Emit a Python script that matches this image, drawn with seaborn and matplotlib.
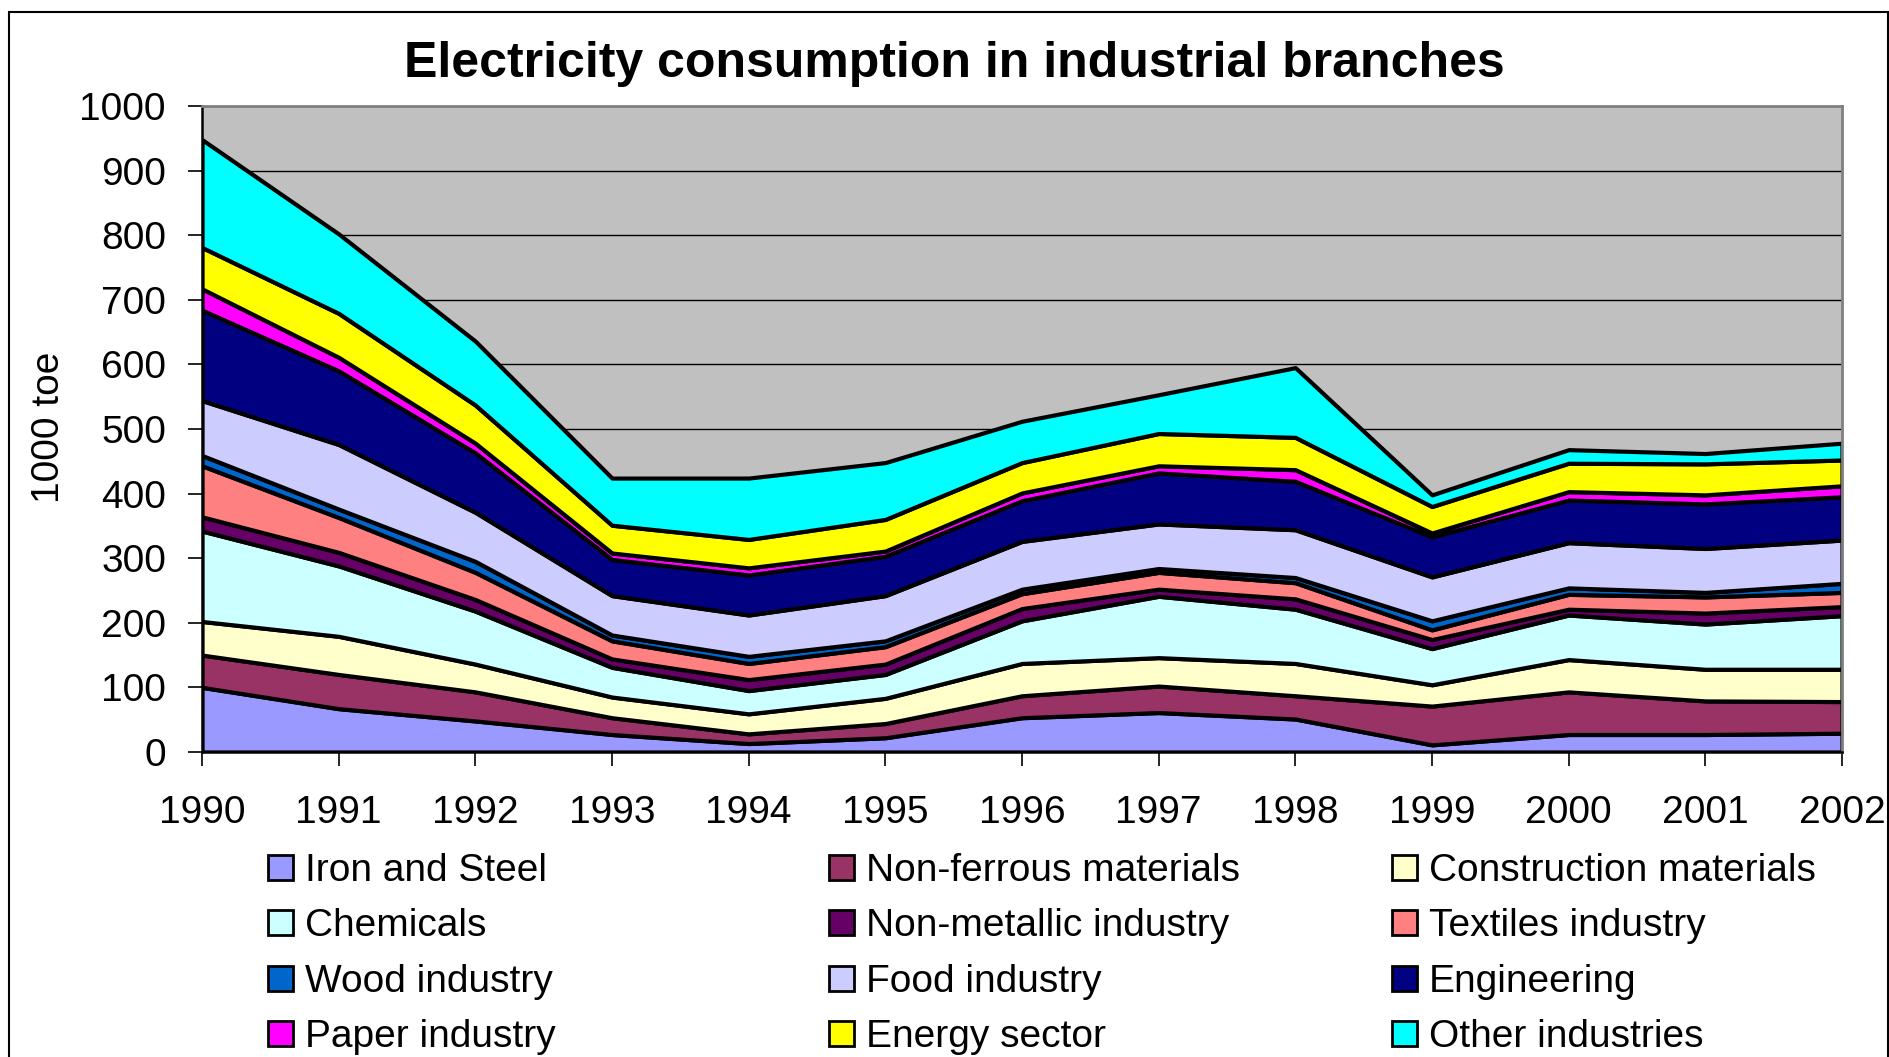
import matplotlib
matplotlib.use("Agg")
import matplotlib.pyplot as plt
from matplotlib.patches import Patch, Rectangle
import seaborn as sns
import pandas as pd

# values in 1000 toe
years = list(range(1990, 2003))
sectors = ["Iron and Steel", "Non-ferrous materials", "Construction materials",
           "Chemicals", "Non-metallic industry", "Textiles industry",
           "Wood industry", "Food industry", "Engineering",
           "Paper industry", "Energy sector", "Other industries"]
iron = [100, 67, 48, 27, 13, 22, 53, 61, 51, 11, 27, 27, 29]
nonferrous = [50, 53, 45, 26, 15, 22, 34, 41, 36, 60, 66, 52, 49]
construction = [52, 59, 43, 32, 31, 39, 50, 44, 50, 33, 50, 49, 50]
chemicals = [140, 109, 82, 46, 36, 37, 66, 95, 84, 56, 69, 70, 83]
nonmetallic = [22, 21, 18, 13, 17, 16, 19, 11, 16, 14, 9, 17, 14]
textiles = [79, 54, 42, 28, 25, 27, 23, 26, 25, 15, 23, 25, 22]
wood = [16, 13, 17, 9, 11, 9, 7, 6, 8, 14, 10, 7, 14]
food = [85, 100, 76, 61, 64, 70, 74, 69, 74, 68, 70, 68, 67]
engineering = [140, 114, 92, 56, 62, 61, 63, 79, 75, 62, 66, 69, 67]
paper = [33, 21, 15, 10, 11, 8, 12, 11, 18, 6, 13, 14, 17]
energy = [64, 68, 59, 43, 44, 49, 47, 50, 50, 41, 44, 48, 40]
other = [167, 123, 99, 73, 95, 88, 64, 60, 108, 18, 21, 16, 26]

colors = ["#9999FF", "#993366", "#FFFFCC", "#CCFFFF", "#660066", "#FF8080",
          "#0066CC", "#CCCCFF", "#000080", "#FF00FF", "#FFFF00", "#00FFFF"]

df = pd.DataFrame(dict(zip(sectors, [iron, nonferrous, construction, chemicals,
                                     nonmetallic, textiles, wood, food,
                                     engineering, paper, energy, other])),
                  index=years)

sns.set_theme(style="white", rc={"text.color": "black", "axes.labelcolor": "black",
                                 "xtick.color": "black", "ytick.color": "black"})
plt.rcParams['font.family'] = ['Liberation Sans', 'DejaVu Sans']

fig = plt.figure(figsize=(18.9, 10.57), dpi=100)
ax = fig.add_axes([0.1069, 0.2886, 0.8677, 0.6111])
ax.set_facecolor("#C0C0C0")

ax.stackplot(df.index, df.T.values, colors=colors, edgecolor="black", linewidth=3.0)

ax.set_xlim(1990, 2002)
ax.set_ylim(0, 1000)
ax.set_xticks(years)
ax.set_yticks(range(0, 1001, 100))
ax.set_axisbelow(True)
ax.yaxis.grid(True, color="black", linewidth=1)
ax.xaxis.grid(False)
ax.tick_params(axis="both", labelsize=28, length=10, width=1.2, color="black",
               labelcolor="black", direction="out")
ax.tick_params(axis="x", pad=21)
ax.tick_params(axis="y", pad=16)
ax.tick_params(left=True, bottom=True)
for s in ["left", "bottom"]:
    ax.spines[s].set_color("black")
    ax.spines[s].set_linewidth(1.8)
for s in ["top", "right"]:
    ax.spines[s].set_color("#808080")
    ax.spines[s].set_linewidth(2)

fig.text(0.505, 0.927, "Electricity consumption in industrial branches",
         ha="center", va="baseline", fontsize=36, fontweight="bold", color="black")
fig.text(0.026, 0.596, "1000 toe", rotation=90, ha="center", va="center",
         fontsize=28, color="black")

# legend: three columns at fixed positions, row-major order like the original
handles = [Patch(facecolor=c, edgecolor="black", linewidth=2) for c in colors]
col_x = [0.1418, 0.4386, 0.7365]
for j in range(3):
    idx = [j, j + 3, j + 6, j + 9]
    fig.legend([handles[i] for i in idx], [sectors[i] for i in idx],
               loc="upper left", bbox_to_anchor=(col_x[j], 0.193), frameon=False,
               fontsize=28, borderpad=0, borderaxespad=0, handlelength=0.65,
               handleheight=0.62, handletextpad=0.3, labelspacing=0.5,
               labelcolor="black")

fig.add_artist(Rectangle((0.0048, -0.02), 0.994, 1.0086, transform=fig.transFigure,
                         fill=False, edgecolor="black", linewidth=1.5))

fig.savefig("out.png", dpi=100)
